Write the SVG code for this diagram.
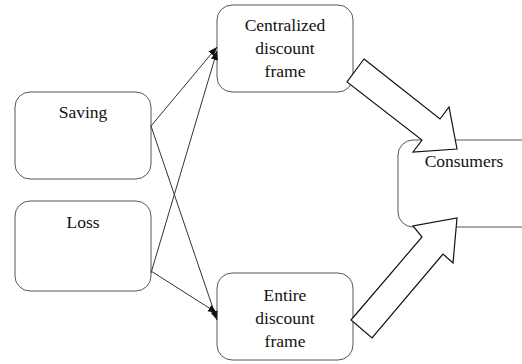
<svg xmlns="http://www.w3.org/2000/svg" width="522" height="364" viewBox="0 0 522 364">
<defs>
<style>
.box{fill:#fff;stroke:#555;stroke-width:1}
text{font-family:"Liberation Serif",Tinos,"DejaVu Serif",Times,serif;font-size:17.5px;fill:#111;text-anchor:middle}
.ln{stroke:#333;stroke-width:1;fill:none}
.big{fill:#fff;stroke:#111;stroke-width:1.2;stroke-linejoin:miter}
</style>
<marker id="ah" viewBox="0 0 10 10" refX="10" refY="5" markerWidth="9" markerHeight="9" markerUnits="userSpaceOnUse" orient="auto">
<path d="M0,1 L10,5 L0,9 z" fill="#111"/>
</marker>
</defs>
<rect width="522" height="364" fill="#fff"/>
<g id="saving"><rect class="box" x="15" y="92" width="136" height="87" rx="15"/><text x="83" y="118">Saving</text></g>
<g id="loss"><rect class="box" x="15" y="201" width="136" height="90" rx="15"/><text x="83" y="228">Loss</text></g>
<g id="centralized"><rect class="box" x="217" y="5" width="136" height="87" rx="15"/><text x="285" y="31">Centralized</text><text x="285" y="54">discount</text><text x="285" y="77">frame</text></g>
<g id="entire"><rect class="box" x="217" y="273" width="136" height="87" rx="15"/><text x="285" y="301">Entire</text><text x="285" y="324">discount</text><text x="285" y="347">frame</text></g>
<g id="consumers"><rect class="box" x="398" y="140" width="150" height="87" rx="15"/><text x="464" y="167">Consumers</text></g>
<g id="connectors">
<line class="ln" x1="151" y1="126" x2="217" y2="47" marker-end="url(#ah)"/>
<line class="ln" x1="151" y1="273" x2="217" y2="51" marker-end="url(#ah)"/>
<line class="ln" x1="151" y1="126" x2="217" y2="320" marker-end="url(#ah)"/>
<line class="ln" x1="151" y1="271" x2="217" y2="313" marker-end="url(#ah)"/>
<polygon class="big" points="364,59 440,119 449,107 457,149 413,152 422,140 347,82"/>
<polygon class="big" points="351,320 422,237 413,226 457,218 453,263 443,254 372,338"/>
</g>
</svg>
